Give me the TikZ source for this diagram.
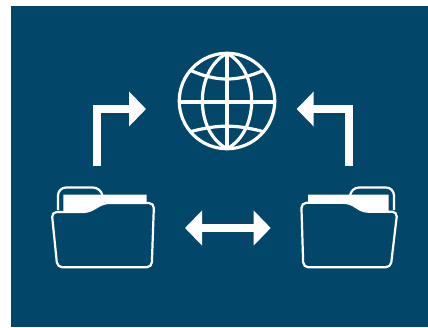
\documentclass[tikz,border=0pt]{standalone}
\usepackage{xcolor}
\usetikzlibrary{arrows.meta, positioning, calc}
\definecolor{panelblue}{HTML}{02476A}

\begin{document}
\begin{tikzpicture}[
  x=1pt, y=-1pt,
  fatarrow/.style={draw=white, line width=8pt, -{Triangle[length=17pt, width=34pt]}},
  swaparrow/.style={draw=white, line width=8pt, {Triangle[length=17pt, width=34pt]}-{Triangle[length=17pt, width=34pt]}},
  gridline/.style={draw=white, line width=3.2pt},
  foldline/.style={draw=white, line width=2.2pt, rounded corners=5pt, line join=round},
  tabline/.style={foldline, rounded corners=8pt},
  sheet/.style={fill=white, draw=none}
]
  \useasboundingbox (0,0) rectangle (428,327);
  \fill[panelblue] (11,6) rectangle (428,327);

  %% Globe
  \node[circle, draw=white, line width=3.2pt, minimum size=95.5pt, inner sep=0pt, outer sep=0pt] (globe) at (227,101) {};
  \draw[gridline] (globe.north) to[bend right=62] (globe.south);
  \draw[gridline] (globe.north) to[bend left=62] (globe.south);
  \draw[gridline] (globe.north) -- (globe.south);
  \draw[gridline] (globe.west |- 0,102) -- (globe.east |- 0,102);
  \draw[gridline] (globe.140) to[bend right=24] (globe.40);
  \draw[gridline] (globe.220) to[bend left=15] (globe.320);

  %% Left folder
  \draw[tabline] (58,210) -- (58,187.5) -- (101,187.5) -- (102.5,196);
  \fill[sheet] (63.3,194.7) -- (146.7,194.7) -- (146.7,202.5) -- (104,202.5) -- (88.3,211.7) -- (63.3,211.7) -- cycle;
  \draw[foldline] (51.7,212) -- (88.3,212) -- (104,203) -- (154,203) -- (151.7,267.3) -- (57.3,267.3) -- cycle;

  %% Right folder
  \draw[tabline] (350,196) -- (351,187.5) -- (394,187.5) -- (394,210);
  \fill[sheet] (308,194.7) -- (388.5,194.7) -- (388.5,211.7) -- (363.3,211.7) -- (349,202.5) -- (308,202.5) -- cycle;
  \draw[foldline] (301.3,202.8) -- (349,202.8) -- (363.3,211.7) -- (397.3,211.7) -- (390.7,267.3) -- (303.3,267.3) -- cycle;

  %% Arrows
  \coordinate (leftup) at (96.5,166);
  \coordinate (lefttip) at (146,109);
  \coordinate (rightup) at (348.7,166);
  \coordinate (righttip) at (296.7,109);
  \coordinate (swapleft) at (185,228);
  \coordinate (swapright) at (270.7,228);
  \draw[fatarrow] (leftup) |- (lefttip);
  \draw[fatarrow] (rightup) |- (righttip);
  \draw[swaparrow] (swapleft) -- (swapright);
\end{tikzpicture}
\end{document}
